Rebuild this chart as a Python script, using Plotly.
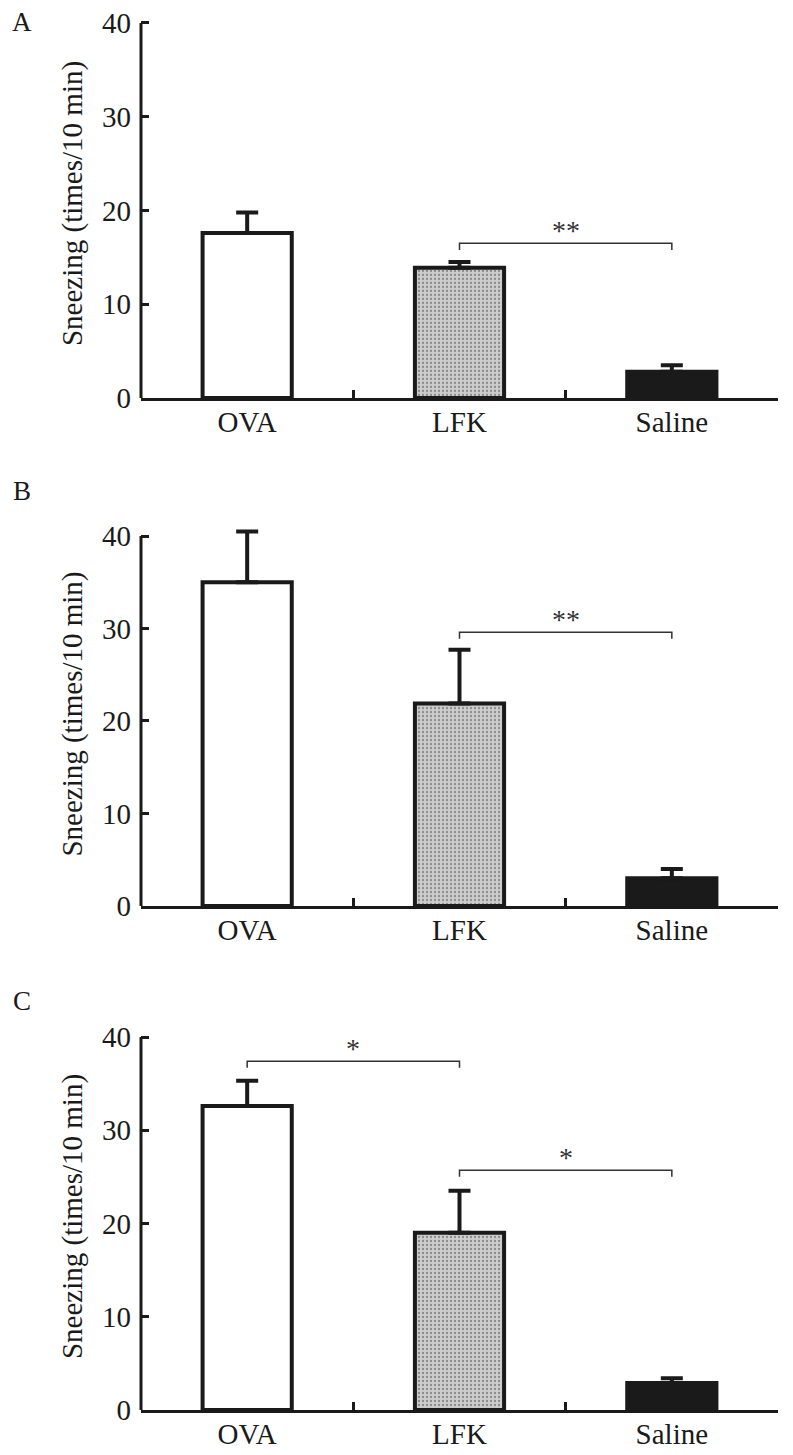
import plotly.graph_objects as go

groups = ["OVA", "LFK", "Saline"]

# mean and upper error (SEM) for each panel
mean_a = [17.6, 13.9, 2.8]
err_a = [2.2, 0.6, 0.7]
mean_b = [35.0, 21.9, 3.0]
err_b = [5.5, 5.8, 1.0]
mean_c = [32.6, 19.0, 2.9]
err_c = [2.7, 4.5, 0.5]

# significance brackets: (from, to, height, label)
sig_a = [("LFK", "Saline", 16.5, "**")]
sig_b = [("LFK", "Saline", 29.6, "**")]
sig_c = [("OVA", "LFK", 37.4, "*"), ("LFK", "Saline", 25.7, "*")]

y_ticks = [0, 10, 20, 30, 40]
panel_labels = ["A", "B", "C"]

FONT = "Liberation Serif"
H, W = 1455, 793
OFF = 8  # page body margin
YMAX, YTOP = 40, 41.5

fills = ["white", "#cdcdcd", "#1a1a1a"]

fig = go.Figure()

panels = [
    (mean_a, err_a, sig_a, (23, 398)),
    (mean_b, err_b, sig_b, (536, 906)),
    (mean_c, err_c, sig_c, (1037, 1410)),
]
letter_pos = [(22, 22), (22, 491), (22, 1001)]

for i, (means, errs, sigs, (top, bot)) in enumerate(panels):
    n = "" if i == 0 else str(i + 1)
    xa, ya = "x" + n, "y" + n
    top, bot = top - OFF, bot - OFF
    top_ext = top - (YTOP - YMAX) * (bot - top) / YMAX

    fig.add_trace(go.Bar(
        x=groups, y=means, xaxis=xa, yaxis=ya,
        width=0.42,
        marker=dict(
            color=fills, line=dict(color="#1a1a1a", width=4),
            pattern=dict(shape=["", ".", ""], fgcolor="#9c9c9c", bgcolor="#d4d4d4",
                         size=4, solidity=0.25),
        ),
        error_y=dict(type="data", symmetric=False, array=errs,
                     arrayminus=[0] * len(errs), color="#1a1a1a",
                     thickness=4, width=11),
        showlegend=False, hoverinfo="skip",
    ))

    fig.layout["xaxis" + n] = dict(
        domain=[(141 - OFF) / W, (778 - OFF) / W], anchor=ya, automargin=False,
        type="category", categoryorder="array", categoryarray=groups,
        range=[-0.5, 2.5], showline=True, linecolor="#1a1a1a", linewidth=3,
        ticks="inside", tickson="boundaries", ticklen=8, tickwidth=3,
        tickcolor="#1a1a1a", showgrid=False, zeroline=False,
        tickfont=dict(family=FONT, size=29, color="#1a1a1a"),
        ticklabelstandoff=-4, ticklabeloverflow="allow",
    )
    fig.layout["yaxis" + n] = dict(
        domain=[1 - bot / H, 1 - top_ext / H], anchor=xa, automargin=False,
        range=[0, YTOP], tickvals=y_ticks, showline=False,
        ticks="inside", ticklen=8,
        tickwidth=3, tickcolor="#1a1a1a", showgrid=False, zeroline=False,
        tickfont=dict(family=FONT, size=29, color="#1a1a1a"),
        ticklabelstandoff=9, ticklabeloverflow="allow",
        title=dict(text="Sneezing (times/10 min)", standoff=10,
                   font=dict(family=FONT, size=29, color="#1a1a1a")),
    )
    # y axis line only up to the top tick
    fig.add_shape(type="line", xref=xa + " domain", yref=ya, x0=0, x1=0,
                  y0=0, y1=YMAX, line=dict(color="#1a1a1a", width=3))

    for a, b, h, lab in sigs:
        ia, ib = groups.index(a), groups.index(b)
        drop = 0.7
        fig.add_shape(type="path", xref=xa, yref=ya,
                      path=f"M {ia},{h - drop} L {ia},{h} L {ib},{h} L {ib},{h - drop}",
                      line=dict(color="#333333", width=1.5))
        fig.add_annotation(x=(ia + ib) / 2, y=h, xref=xa, yref=ya, text=lab,
                           showarrow=False, yanchor="bottom", yshift=-5,
                           font=dict(family=FONT, size=28, color="#333333"))

    lx, ly = letter_pos[i]
    fig.add_annotation(x=(lx - OFF) / W, y=1 - (ly - OFF) / H, xref="paper", yref="paper",
                       xanchor="center", yanchor="middle",
                       text=panel_labels[i], showarrow=False,
                       font=dict(family=FONT, size=27, color="#1a1a1a"))

fig.update_layout(
    width=W, height=H, margin=dict(l=0, r=0, t=0, b=0, autoexpand=False),
    plot_bgcolor="white", paper_bgcolor="white", bargap=0.5,
)

fig.write_html("out.html")
